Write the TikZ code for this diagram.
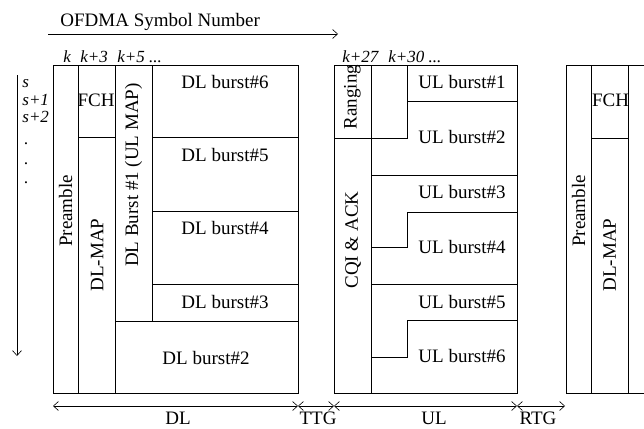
\documentclass[tikz,border=0pt]{standalone}
\usepackage{fontspec}
\setmainfont{Liberation Serif}
\usetikzlibrary{arrows.meta}

\begin{document}
\begin{tikzpicture}[x=1pt,y=-1pt,line width=0.8pt,
  txt/.style={font=\fontsize{19}{22}\selectfont,inner sep=0pt},
  idx/.style={font=\fontsize{17}{20}\selectfont\itshape,inner sep=0pt,anchor=base west},
  gaparrow/.style={{Straight Barb[length=5pt,width=9pt]}-{Straight Barb[length=5pt,width=9pt]},line width=0.6pt}]
  \useasboundingbox (0,0) rectangle (644,428);

  % Symbol axis
  \node[txt,anchor=base west] (title) at (60,27) {OFDMA Symbol Number};
  \coordinate (symstart) at (48,34);
  \coordinate (symend) at (338,34);
  \draw[-{Straight Barb[length=5pt,width=9pt]},line width=0.6pt] (symstart) -- (symend);
  \node[idx] (k) at (63,63) {k};
  \node[idx] (k3) at (80,63) {k+3};
  \node[idx] (k5) at (117,63) {k+5 ...};
  \node[idx] (k27) at (342,63) {k+27};
  \node[idx] (k30) at (388,63) {k+30 ...};

  % Subchannel axis
  \coordinate (subtop) at (17,75);
  \coordinate (subbot) at (17,356);
  \draw[-{Straight Barb[length=5pt,width=9pt]},line width=0.6pt] (subtop) -- (subbot);
  \node[idx] (s) at (22,87) {s};
  \node[idx] (s1) at (22,105) {s+1};
  \node[idx] (s2) at (22,122) {s+2};
  \foreach \y [count=\i] in {144,164,183} {
    \node[idx] (dot\i) at (24,\y) {.};
  }

  % DL subframe
  \draw (53,65) rectangle (298,393);
  \draw (78,65) -- (78,393) (115,65) -- (115,393) (152,65) -- (152,321);
  \draw (78,137) -- (115,137);
  \foreach \y in {137,211,284} {
    \draw (152,\y) -- (298,\y);
  }
  \draw (115,321) -- (298,321);
  \node[txt,rotate=90] (pre) at (65.5,211) {Preamble};
  \node[txt,rotate=90] (dlmap) at (97,255) {DL-MAP};
  \node[txt,rotate=90] (ulmap) at (133.5,175) {DL Burst \#1 (UL MAP)};
  \node[txt] (fch) at (96,100) {FCH};
  \foreach \n/\y in {6/82,5/155,4/228,3/302} {
    \node[txt] (dl\n) at (225,\y) {DL burst\#\n};
  }
  \node[txt] (dl2) at (206,358) {DL burst\#2};

  % UL subframe
  \draw (334,65) rectangle (517,393);
  \draw (371,65) -- (371,393);
  \draw (334,138) -- (371,138);
  \draw (407,65) -- (407,138) -- (371,138);
  \draw (407,101) -- (517,101);
  \draw (371,175) -- (517,175);
  \draw (517,212) -- (407,212) -- (407,247) -- (371,247);
  \draw (371,284) -- (517,284);
  \draw (517,320) -- (407,320) -- (407,357) -- (371,357);
  \node[txt,rotate=90] (rng) at (352.5,97) {Ranging};
  \node[txt,rotate=90] (cqi) at (353,240) {CQI \& ACK};
  \foreach \n/\y in {1/82,2/137,3/192,4/247,5/302,6/356} {
    \node[txt] (ul\n) at (462,\y) {UL burst\#\n};
  }

  % Next frame
  \draw (644,65) -- (566,65) -- (566,393) -- (644,393);
  \draw (591,65) -- (591,393) (628,65) -- (628,393);
  \draw (591,138) -- (628,138);
  \node[txt,rotate=90] (pre2) at (578.5,211) {Preamble};
  \node[txt,rotate=90] (dlmap2) at (609.5,255) {DL-MAP};
  \node[txt] (fch2) at (610.5,100) {FCH};

  % Durations
  \foreach \c/\x in {a/53,b/298,c/334,d/517,e/565} {
    \coordinate (\c) at (\x,406);
  }
  \draw[gaparrow] (a) -- (b);
  \draw[gaparrow] (b) -- (c);
  \draw[gaparrow] (c) -- (d);
  \draw[gaparrow] (d) -- (e);
  \node[txt,anchor=base] (dl) at (178,424) {DL};
  \node[txt,anchor=base] (ttg) at (318,424) {TTG};
  \node[txt,anchor=base] (ul) at (434,424) {UL};
  \node[txt,anchor=base] (rtg) at (538,424) {RTG};
\end{tikzpicture}
\end{document}
